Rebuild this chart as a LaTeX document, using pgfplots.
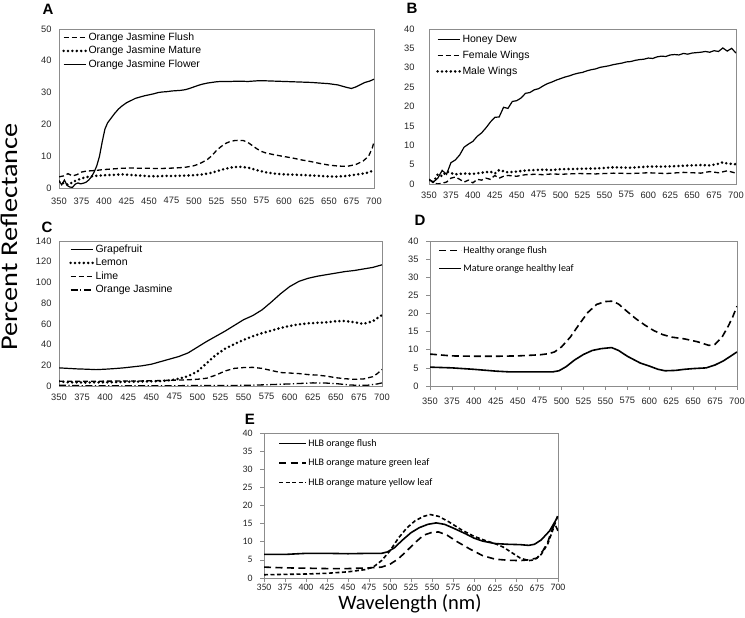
\documentclass[border=0pt]{standalone}
\usepackage{pgfplots}
\pgfplotsset{compat=1.18}
\usepackage{fontspec}
\setmainfont{Liberation Sans}
\newfontfamily\calib{Carlito}
\definecolor{axgray}{HTML}{8C8C8C}
\pgfplotsset{
  panel/.style={scale only axis, anchor=south west, xmin=350, xmax=700,
    xtick={350,375,...,700}, ymin=0,
    axis line style={axgray, line width=0.7pt},
    major tick length=0pt,
    /pgf/number format/assume math mode=true,
    ticklabel style={font=\fontsize{9.3}{10}\selectfont, text=black!85},
    xticklabel style={yshift=-4pt},
    yticklabel style={xshift=-4pt},
    legend cell align=left,
    legend image code/.code={\draw[##1] (0pt,0pt) -- (22pt,0pt);},
  },
  xlpanel/.style={panel, tick align=outside, major tick length=4pt,
    xtick pos=bottom, ytick pos=left, tick style={axgray, line width=0.6pt},
    xticklabel style={yshift=0pt}, yticklabel style={xshift=0pt}},
  sdot/.style={line width=2.8pt, dash pattern=on 0pt off 4.4pt, line cap=round},
  sdash/.style={line width=1.3pt, dash pattern=on 5pt off 3pt},
  ssolid/.style={line width=1.2pt},
}
\begin{document}
\begin{tikzpicture}
\useasboundingbox (0,0) rectangle (745pt,618pt);
% ---------- A ----------
\begin{axis}[panel, at={(59pt,430pt)}, width=315pt, height=159pt,
  ymax=50, ytick={0,10,...,50}, xticklabel style={yshift=-2pt},
  legend style={draw=none, fill=none, at={(0,1)}, anchor=north west, xshift=3pt, yshift=-2pt,
    font=\fontsize{10.5}{12}\selectfont, row sep=1pt, inner sep=0pt,
    nodes={inner sep=1.5pt, text height=7.5pt, text depth=2pt}}]
\addplot[sdash] coordinates {(350,3.5)(355,3.8)(360,4.5)(365,3.8)(370,4.2)(375,5.0)(380,5.3)(390,5.5)(400,5.8)(410,6.0)(420,6.2)(430,6.3)(440,6.2)(450,6.2)(460,6.1)(470,6.2)(480,6.3)(490,6.5)(500,7.0)(505,7.5)(510,8.2)(515,9.0)(520,10.2)(525,11.8)(530,13.0)(535,14.0)(540,14.6)(545,14.9)(550,15.0)(555,14.9)(560,14.3)(565,13.3)(570,12.3)(575,11.5)(580,11.0)(590,10.4)(600,9.9)(610,9.4)(620,8.8)(630,8.3)(640,7.7)(650,7.2)(660,6.9)(670,6.8)(680,7.4)(688,8.5)(694,10.0)(698,12.5)(700,14.5)};
\addlegendentry{Orange Jasmine Flush}
\addplot[sdot] coordinates {(350,2.0)(355,1.5)(360,1.0)(365,1.8)(370,2.5)(375,3.0)(380,3.4)(390,3.8)(400,4.0)(410,4.1)(420,4.3)(430,4.1)(440,3.9)(450,3.7)(460,3.7)(470,3.8)(480,3.8)(490,3.9)(500,4.0)(510,4.3)(520,4.8)(530,5.7)(540,6.4)(550,6.7)(560,6.4)(570,5.6)(580,4.9)(590,4.5)(600,4.3)(620,4.1)(640,3.8)(650,3.6)(660,3.6)(670,3.8)(680,4.2)(690,4.6)(700,5.5)};
\addlegendentry{Orange Jasmine Mature}
\addplot[ssolid] coordinates {(350,2.3)(353,1.0)(356,2.5)(359,0.8)(362,0.3)(365,0.2)(368,1.2)(371,1.6)(374,1.3)(377,1.5)(380,1.8)(383,2.5)(386,3.5)(389,5.0)(392,7.0)(395,10.0)(398,14.5)(401,18.5)(404,20.5)(408,22.0)(412,23.5)(416,24.8)(420,25.8)(425,26.8)(430,27.5)(435,28.2)(440,28.6)(445,29.0)(450,29.3)(455,29.6)(460,30.0)(465,30.2)(470,30.3)(475,30.5)(480,30.6)(485,30.7)(490,30.9)(495,31.3)(500,31.8)(505,32.3)(510,32.7)(515,33.0)(520,33.2)(525,33.4)(530,33.5)(540,33.5)(550,33.6)(560,33.5)(570,33.7)(580,33.7)(590,33.6)(600,33.5)(610,33.4)(620,33.3)(630,33.2)(640,33.0)(650,32.8)(660,32.4)(665,32.0)(670,31.6)(675,31.3)(680,31.8)(685,32.5)(690,33.2)(695,33.6)(700,34.2)};
\addlegendentry{Orange Jasmine Flower}
\end{axis}
% ---------- B ----------
\begin{axis}[panel, at={(429pt,434pt)}, width=307pt, height=155pt,
  ymax=40, ytick={0,5,...,40}, yticklabel style={xshift=-7pt},
  legend style={draw=none, fill=none, at={(0,1)}, anchor=north west, xshift=7pt, yshift=-4pt,
    font=\fontsize{10.5}{12}\selectfont, row sep=3.5pt, inner sep=0pt,
    nodes={inner sep=1.5pt, text height=7.5pt, text depth=2pt}}]
\addplot[ssolid] coordinates {(350,1.2)(355,0.5)(360,1.5)(365,3.5)(370,2.5)(375,5.5)(380,6.2)(385,7.5)(390,9.5)(395,10.3)(400,11)(405,12.3)(410,13.2)(415,14.5)(420,16)(425,17.2)(430,17.3)(435,19.8)(440,19.5)(445,21.3)(450,21.5)(455,22.2)(460,23.4)(465,23.6)(470,24.3)(475,24.6)(480,25.3)(485,25.9)(490,26.3)(495,26.8)(500,27.2)(505,27.6)(510,27.9)(515,28.3)(520,28.6)(525,28.8)(530,29.2)(535,29.5)(540,29.7)(545,30.1)(550,30.3)(555,30.5)(560,30.8)(565,31.0)(570,31.2)(575,31.5)(580,31.6)(585,31.9)(590,32.1)(595,32.2)(600,32.5)(605,32.4)(610,32.8)(615,33.0)(620,32.9)(625,33.3)(630,33.4)(635,33.3)(640,33.7)(645,33.5)(650,33.8)(655,33.9)(660,34.0)(665,34.2)(670,34.0)(675,34.4)(680,34.2)(685,35.1)(690,34.3)(695,35.0)(700,33.8)};
\addlegendentry{Honey Dew}
\addplot[sdash] coordinates {(350,1.2)(355,0.3)(360,0)(365,0.2)(370,0.5)(375,1.5)(380,1.8)(385,1.2)(390,0.5)(395,1)(400,0.3)(405,1.2)(410,1.0)(415,1.5)(420,1.2)(425,2.2)(430,1.5)(435,2.0)(440,2.2)(450,2.0)(460,2.4)(470,2.5)(480,2.4)(490,2.6)(500,2.5)(520,2.7)(540,2.6)(560,2.8)(580,2.7)(600,2.9)(620,2.7)(640,3.0)(660,2.8)(670,3.2)(680,2.9)(690,3.4)(700,2.8)};
\addlegendentry{Female Wings}
\addplot[sdot] coordinates {(350,1.0)(355,0.5)(360,2.5)(365,2.0)(370,3.2)(375,2.8)(380,2.5)(390,2.7)(400,2.6)(410,2.9)(420,3.2)(425,2.7)(430,3.6)(440,3.0)(450,3.2)(460,3.5)(470,3.6)(480,3.7)(490,3.6)(500,3.8)(520,3.9)(540,4.0)(560,4.3)(580,4.2)(600,4.5)(620,4.5)(640,4.7)(660,4.9)(670,4.8)(680,5.2)(685,5.6)(690,5.3)(700,5.1)};
\addlegendentry{Male Wings}
\end{axis}
% ---------- C ----------
\begin{axis}[panel, at={(59pt,232pt)}, width=323pt, height=145pt,
  ymax=140, ytick={0,20,...,140},
  legend style={draw=none, fill=none, at={(0,1)}, anchor=north west, xshift=10pt, yshift=-2pt,
    font=\fontsize{10.5}{12}\selectfont, row sep=1pt, inner sep=0pt,
    nodes={inner sep=1.5pt, text height=7.5pt, text depth=2pt}}]
\addplot[ssolid] coordinates {(350,17.5)(360,17)(370,16.5)(380,16.2)(390,15.8)(400,16.2)(410,16.8)(420,17.5)(430,18.5)(440,19.5)(450,21)(460,23.5)(470,26)(480,28.5)(490,32)(500,37.5)(510,43)(520,48)(530,53)(540,58.5)(550,64)(560,68)(570,73.5)(580,81)(590,89)(600,96)(610,101)(620,104)(630,106)(640,107.5)(650,109)(660,110.5)(670,111.5)(680,113)(690,114.5)(700,117)};
\addlegendentry{Grapefruit}
\addplot[sdot] coordinates {(350,4.5)(360,3.5)(370,3.5)(380,3.3)(390,3.5)(400,3.5)(410,3.8)(420,4)(430,4.2)(440,4.3)(450,4.5)(460,4.8)(470,5.5)(480,7)(490,9.5)(500,14)(510,22)(520,30)(530,36)(540,40.5)(550,44.5)(560,48)(570,51)(580,53.5)(590,56)(600,58)(610,59.5)(620,60.5)(630,61)(640,61.5)(650,62.5)(660,62.8)(670,61.5)(680,60)(690,62.5)(700,68.5)};
\addlegendentry{Lemon}
\addplot[sdash] coordinates {(350,4.5)(375,4.5)(400,4.7)(425,4.8)(450,5)(470,5.5)(490,6)(500,6.5)(510,7.5)(520,10.5)(530,14.5)(540,17)(550,17.8)(560,18)(570,17)(580,15)(590,13)(600,12.5)(610,12)(620,11)(630,10.5)(640,9.5)(650,8)(660,7)(670,6.5)(680,6.8)(690,9)(695,12)(700,16)};
\addlegendentry{Lime}
\addplot[line width=1.3pt, dash pattern=on 7pt off 2.5pt on 1.2pt off 2.5pt] coordinates {(350,0.8)(375,0.3)(400,0.2)(450,0.2)(500,0.4)(550,0.6)(575,1.2)(600,2)(625,3)(640,2.8)(650,2.3)(665,1)(675,0.6)(685,0.8)(695,2)(700,3)};
\addlegendentry{Orange Jasmine}
\end{axis}
% ---------- D ----------
\begin{axis}[xlpanel, at={(430pt,232pt)}, width=307pt, height=145pt,
  ymax=40, ytick={0,5,...,40},
  ticklabel style={font=\fontsize{9.3}{10}\selectfont},
  legend style={draw=none, fill=none, at={(0,1)}, anchor=north west, xshift=8pt, yshift=-3pt,
    font=\calib\fontsize{10}{12}\selectfont, row sep=5.5pt, inner sep=0pt,
    nodes={inner sep=1.5pt, text height=7.5pt, text depth=2pt}}]
\addplot[line width=1.6pt, dash pattern=on 7pt off 4pt] coordinates {(350,8.8)(360,8.6)(375,8.3)(400,8.2)(425,8.2)(450,8.3)(475,8.6)(485,8.9)(492,9.4)(500,10.8)(510,13.5)(520,17)(530,20.3)(540,22.5)(550,23.3)(558,23.4)(565,22.6)(575,20.5)(585,18.5)(595,16.8)(605,15.3)(615,14.2)(625,13.5)(640,13)(655,12.2)(668,11.2)(675,11.5)(683,13.5)(690,16.5)(695,19)(700,22)};
\addlegendentry{Healthy orange flush}
\addplot[line width=1.6pt] coordinates {(350,5.2)(375,5)(400,4.6)(425,4.1)(440,3.9)(475,3.9)(490,3.9)(497,4.2)(505,5.3)(515,7.2)(525,8.7)(535,9.8)(545,10.3)(557,10.6)(565,9.8)(575,8.2)(590,6.3)(600,5.5)(610,4.6)(618,4.2)(630,4.3)(640,4.6)(650,4.8)(665,5)(675,5.8)(685,7)(695,8.6)(700,9.4)};
\addlegendentry{Mature orange healthy leaf}
\end{axis}
% ---------- E ----------
\begin{axis}[xlpanel, at={(264pt,40pt)}, width=294pt, height=145pt,
  ymax=40, ytick={0,5,...,40},
  ticklabel style={font=\calib\fontsize{9.8}{10}\selectfont},
  xticklabel style={yshift=5pt},
  legend image code/.code={\draw[#1] (0pt,0pt) -- (27pt,0pt);},
  legend style={draw=none, fill=none, at={(0,1)}, anchor=north west, xshift=14pt, yshift=-4pt,
    font=\calib\fontsize{10}{12}\selectfont, row sep=7pt, inner sep=0pt,
    nodes={inner sep=1.5pt, text height=7.5pt, text depth=2pt}}]
\addplot[line width=1.6pt] coordinates {(350,6.5)(375,6.5)(400,6.8)(425,6.8)(450,6.7)(475,6.8)(490,6.8)(497,7.2)(505,8.3)(515,10.5)(525,12.5)(535,13.9)(545,14.8)(555,15.2)(565,14.8)(575,13.8)(590,12.2)(600,11)(610,10.2)(625,9.5)(640,9.3)(655,9.2)(665,9)(672,9.3)(680,10.5)(690,13)(700,17)};
\addlegendentry{HLB orange flush}
\addplot[line width=1.6pt, dash pattern=on 7pt off 4.5pt] coordinates {(350,3)(375,2.8)(400,2.7)(425,2.6)(450,2.6)(475,2.8)(490,3)(500,3.8)(510,5.3)(520,7.5)(530,9.8)(540,11.8)(550,12.6)(558,12.7)(568,11.8)(580,10)(595,8)(610,6.2)(625,5.2)(640,4.9)(655,4.8)(665,5)(675,5.5)(682,7.5)(688,10)(692,12.8)(696,15)(700,13)};
\addlegendentry{HLB orange mature green leaf}
\addplot[line width=1.6pt, dash pattern=on 4pt off 2.5pt] coordinates {(350,0.9)(375,1)(400,1.1)(425,1.3)(450,1.7)(470,2.3)(480,3)(490,4.8)(500,7.5)(510,11)(520,13.8)(530,15.8)(540,17)(548,17.5)(558,17)(570,15.5)(585,13.3)(600,11.5)(615,10.2)(625,9.5)(635,8.5)(645,7)(655,5.5)(665,4.8)(672,5)(680,6.5)(688,9.5)(695,14)(700,17.5)};
\addlegendentry{HLB orange mature yellow leaf}
\end{axis}
% ---------- labels ----------
\node[font=\bfseries\fontsize{15}{15}\selectfont, inner sep=0pt] at (48pt,609pt) {A};
\node[font=\bfseries\fontsize{15}{15}\selectfont, inner sep=0pt] at (412pt,610pt) {B};
\node[font=\bfseries\fontsize{15}{15}\selectfont, inner sep=0pt] at (47pt,391pt) {C};
\node[font=\bfseries\fontsize{15}{15}\selectfont, inner sep=0pt] at (420pt,398pt) {D};
\node[font=\bfseries\fontsize{15}{15}\selectfont, inner sep=0pt] at (250pt,199pt) {E};
\node[rotate=90, anchor=base, inner sep=0pt, font=\calib\fontsize{24}{24}\selectfont] at (17pt,381pt) {\scalebox{1.18}[1]{Percent Reflectance}};
\node[anchor=base, inner sep=0pt, font=\calib\fontsize{20.5}{21}\selectfont] at (410pt,8pt) {Wavelength (nm)};
\end{tikzpicture}
\end{document}
